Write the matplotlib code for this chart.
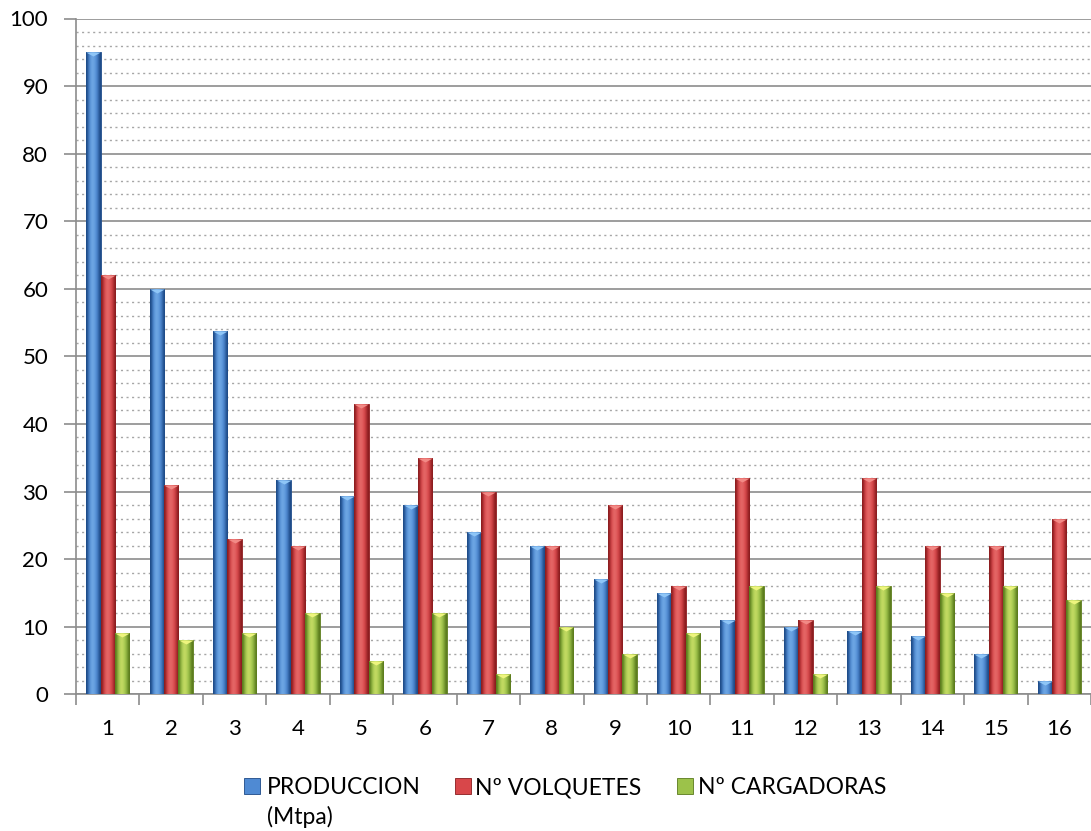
import numpy as np
import matplotlib as mpl
mpl.use("Agg")
import matplotlib.pyplot as plt
import matplotlib.transforms as mtransforms
from matplotlib.colors import LinearSegmentedColormap
from matplotlib.patches import Rectangle
from matplotlib.ticker import MultipleLocator

plt.rcParams.update({
    "font.family": ["Lato", "DejaVu Sans"],
    "font.size": 16,
    "ytick.major.pad": 11,
})

# ---- data ----
categories = [str(i) for i in range(1, 17)]
produccion = [95, 60, 53.7, 31.7, 29.4, 28, 24, 22, 17, 15, 11, 10, 9.3, 8.7, 6, 2]
volquetes = [62, 31, 23, 22, 43, 35, 30, 22, 28, 16, 32, 11, 32, 22, 22, 26]
cargadoras = [9, 8, 9, 12, 5, 12, 3, 10, 6, 9, 16, 3, 16, 15, 16, 14]

series = [
    ("PRODUCCION\n(Mtpa)", produccion, ("#1d4a86", "#4f8ad3", "#8fc6f7")),
    ("Nº VOLQUETES", volquetes, ("#8a1c1e", "#d8474a", "#f28a86")),
    ("Nº CARGADORAS", cargadoras, ("#5a7a1c", "#9cc24a", "#eef57e")),
]

W, H = 1091, 831
fig = plt.figure(figsize=(W / 100, H / 100), dpi=100)
ax = fig.add_axes([76 / W, 1 - 694.3 / H, 1.0 - 76 / W, 675.8 / H])

x = np.arange(1, len(categories) + 1)
bw = 0.227
grad = np.array([[0.0, 0.5, 0.85, 1.0, 0.9, 0.7, 0.4, 0.0]])

for k, (name, vals, (dark, mid, light)) in enumerate(series):
    xs = x + (k - 1) * bw
    bars = ax.bar(xs, vals, width=bw, color=mid, edgecolor=dark, linewidth=0.6, zorder=3)
    cmap = LinearSegmentedColormap.from_list(name, [dark, mid, light])
    for b in bars:
        im = ax.imshow(grad * 0.75, extent=[b.get_x(), b.get_x() + b.get_width(), 0, b.get_height()],
                       aspect="auto", cmap=cmap, vmin=0, vmax=1, zorder=3.5, interpolation="bicubic")
        im.set_clip_path(b)
    # small bevel triangle at the top of each bar
    ax.scatter(xs, vals, marker=[(-1, 0), (1, 0), (0, -0.55)], s=110, color=light,
               linewidths=0, zorder=4)

ax.set_xlim(0.5, 16.5 - 6 / 63.8)
ax.set_ylim(0, 100)

# axes styling
for s in ("top", "right"):
    ax.spines[s].set_visible(False)
for s in ("left", "bottom"):
    ax.spines[s].set_color("#8c8c8c")
    ax.spines[s].set_linewidth(1.2)

ax.set_yticks(np.arange(0, 101, 10))
ax.yaxis.set_minor_locator(MultipleLocator(2))
ax.tick_params(axis="y", which="major", length=9, width=1.2, color="#8c8c8c")
ax.tick_params(axis="y", which="minor", length=0)
ax.yaxis.grid(True, which="major", color="#8c8c8c", lw=1.2)
ax.yaxis.grid(True, which="minor", color="#a6a6a6", lw=1.0, ls=(0, (1.5, 2.5)))
ax.set_axisbelow(True)

# category boundaries get the tick marks, labels sit at the centres
ax.set_xticks(np.arange(0.5, 17, 1))
ax.set_xticklabels([])
ax.tick_params(axis="x", which="major", length=8, width=1.2, color="#8c8c8c")
lab_tr = mtransforms.blended_transform_factory(ax.transData, ax.transAxes)
for xi, lab in zip(x, categories):
    ax.text(xi, -0.051, lab, transform=lab_tr, ha="center", va="center", fontsize=16,
            clip_on=False)

# legend drawn by hand so the markers sit on the first text line
leg_box = [244, 455, 677]   # left edge of each marker, px
leg_txt = [267, 475, 698]   # start of each label, px
base = 794.3                # baseline of first legend line, px
for (name, vals, (dark, mid, light)), bx, tx in zip(series, leg_box, leg_txt):
    fig.add_artist(Rectangle((bx / W, 1 - 794 / H), 16 / W, 16 / H, transform=fig.transFigure,
                             facecolor=mid, edgecolor=dark, lw=0.6))
    for j, line in enumerate(name.split("\n")):
        fig.text(tx / W, 1 - (base + 29.5 * j) / H, line, ha="left", va="baseline",
                 fontsize=16.5)

fig.savefig("out.png", dpi=100)
